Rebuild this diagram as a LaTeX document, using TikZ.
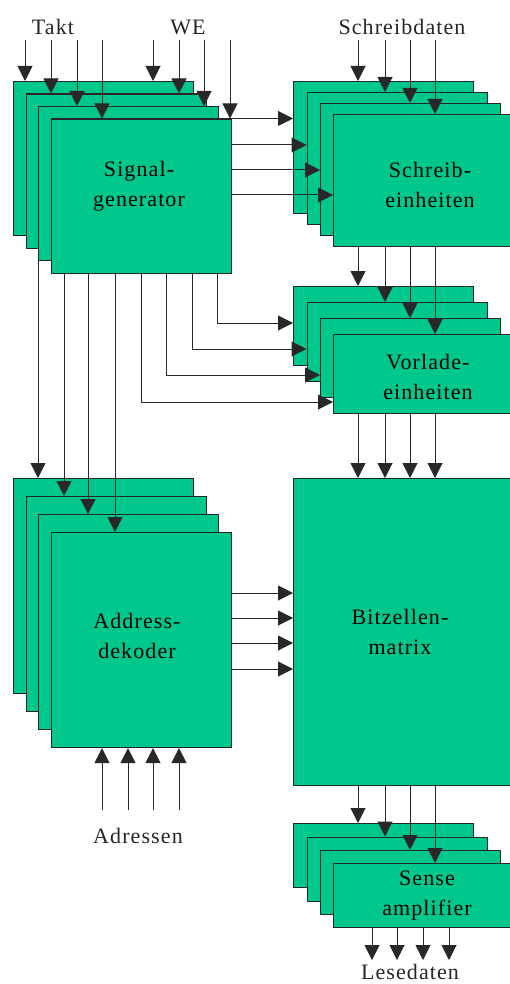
\documentclass[tikz,border=0pt]{standalone}
\usepackage{fontspec}
\setmainfont{Liberation Serif}[LetterSpace=5]
\usetikzlibrary{arrows.meta}
\definecolor{boxgreen}{RGB}{0,200,140}
\definecolor{linegray}{RGB}{40,40,40}
\begin{document}
\begin{tikzpicture}[x=1pt,y=-1pt,
  box/.style={draw=black!85, line width=1.1pt, fill=boxgreen, inner sep=0pt, anchor=north west, minimum width=#1},
  box/.default=180pt,
  conn/.style={draw=linegray, line width=1pt},
  arr/.style={conn, -{Triangle[width=15pt,length=15pt]}},
  txt/.style={font=\fontsize{22}{30}\selectfont, align=center, inner sep=0pt},
  lbl/.style={font=\fontsize{22}{26}\selectfont, inner sep=0pt, text=black!85}]
\useasboundingbox (0,0) rectangle (510,984);
\clip (0,0) rectangle (510,984);
\fill[white] (0,0) rectangle (510,984);

% ---------- Signal generator stack
\node[box, minimum height=154pt] (sg1) at (13,81) {};
\node[box, minimum height=154pt] (sg2) at (25.5,93.5) {};
\node[box, minimum height=154pt] (sg3) at (38,106) {};
\node[box, minimum height=154pt] (sg4) at (50.5,118.5) {};
\node[txt] (sgt) at (139,186) {Signal-\\generator};

% ---------- Schreibeinheiten stack
\node[box, minimum height=132pt] (sw1) at (293,81) {};
\node[box, minimum height=132pt] (sw2) at (306.5,92) {};
\node[box, minimum height=132pt] (sw3) at (320,103) {};
\node[box, minimum height=132pt] (sw4) at (333,114) {};
\node[txt] (swt) at (430,185) {Schreib-\\einheiten};

% ---------- Vorladeeinheiten stack
\node[box, minimum height=79pt] (vl1) at (293,286) {};
\node[box, minimum height=79pt] (vl2) at (306.5,302) {};
\node[box, minimum height=79pt] (vl3) at (320,318) {};
\node[box, minimum height=79pt] (vl4) at (333,334) {};
\node[txt] (vlt) at (428,377) {Vorlade-\\einheiten};

% ---------- Address decoder stack
\node[box, minimum height=215pt] (ad1) at (13,478) {};
\node[box, minimum height=215pt] (ad2) at (25.5,496) {};
\node[box, minimum height=215pt] (ad3) at (38,514) {};
\node[box, minimum height=215pt] (ad4) at (50.5,532) {};
\node[txt] (adt) at (137,636) {Address-\\dekoder};

% ---------- Bitzellenmatrix
\node[box=240pt, minimum height=307pt] (bm) at (293,478) {};
\node[txt] (bmt) at (400,632) {Bitzellen-\\matrix};

% ---------- Sense amplifier stack
\node[box, minimum height=64pt] (sa1) at (293,823) {};
\node[box, minimum height=64pt] (sa2) at (306.5,836.5) {};
\node[box, minimum height=64pt] (sa3) at (320,850) {};
\node[box, minimum height=64pt] (sa4) at (333,863) {};
\node[txt] (sat) at (427,896) {Sense\\amplifier};

% ---------- outside labels
\node[lbl] (takt) at (53,27) {Takt};
\node[lbl] (we) at (188,27) {WE};
\node[lbl] (sd) at (402,27) {Schreibdaten};
\node[lbl] (adr) at (138,836) {Adressen};
\node[lbl] (ld) at (410,972) {Lesedaten};

% ---------- Takt and WE inputs
\coordinate (tk1) at (25,40);  \coordinate (tk2) at (51,40);
\coordinate (tk3) at (77,40);  \coordinate (tk4) at (102,40);
\coordinate (we1) at (153,40); \coordinate (we2) at (179,40);
\coordinate (we3) at (204,40); \coordinate (we4) at (230,40);
\draw[arr] (tk1) -- (tk1 |- sg1.north);
\draw[arr] (tk2) -- (tk2 |- sg2.north);
\draw[arr] (tk3) -- (tk3 |- sg3.north);
\draw[arr] (tk4) -- (tk4 |- sg4.north);
\draw[arr] (we1) -- (we1 |- sg1.north);
\draw[arr] (we2) -- (we2 |- sg2.north);
\draw[arr] (we3) -- (we3 |- sg3.north);
\draw[arr] (we4) -- (we4 |- sg4.north);

% ---------- Schreibdaten inputs
\coordinate (sd1) at (358,40); \coordinate (sd2) at (385,40);
\coordinate (sd3) at (410,40); \coordinate (sd4) at (435,40);
\draw[arr] (sd1) -- (sd1 |- sw1.north);
\draw[arr] (sd2) -- (sd2 |- sw2.north);
\draw[arr] (sd3) -- (sd3 |- sw3.north);
\draw[arr] (sd4) -- (sd4 |- sw4.north);

% ---------- Signal generator -> Schreibeinheiten
\coordinate (g1) at (230.5,118.5); \coordinate (g2) at (230.5,145);
\coordinate (g3) at (230.5,170);   \coordinate (g4) at (230.5,195);
\draw[arr] (g1) -- (g1 -| sw1.west);
\draw[arr] (g2) -- (g2 -| sw2.west);
\draw[arr] (g3) -- (g3 -| sw3.west);
\draw[arr] (g4) -- (g4 -| sw4.west);

% ---------- Schreibeinheiten -> Vorladeeinheiten
\draw[arr] (sd1 |- sw4.south) -- (sd1 |- vl1.north);
\draw[arr] (sd2 |- sw4.south) -- (sd2 |- vl2.north);
\draw[arr] (sd3 |- sw4.south) -- (sd3 |- vl3.north);
\draw[arr] (sd4 |- sw4.south) -- (sd4 |- vl4.north);

% ---------- Signal generator -> Vorladeeinheiten
\coordinate (v1) at (217,323); \coordinate (v2) at (192,349);
\coordinate (v3) at (166,375); \coordinate (v4) at (141,402);
\draw[arr] (v1 |- sg4.south) -- (v1) -- (v1 -| vl1.west);
\draw[arr] (v2 |- sg4.south) -- (v2) -- (v2 -| vl2.west);
\draw[arr] (v3 |- sg4.south) -- (v3) -- (v3 -| vl3.west);
\draw[arr] (v4 |- sg4.south) -- (v4) -- (v4 -| vl4.west);

% ---------- Vorladeeinheiten -> Bitzellenmatrix
\draw[arr] (sd1 |- vl4.south) -- (sd1 |- bm.north);
\draw[arr] (sd2 |- vl4.south) -- (sd2 |- bm.north);
\draw[arr] (sd3 |- vl4.south) -- (sd3 |- bm.north);
\draw[arr] (sd4 |- vl4.south) -- (sd4 |- bm.north);

% ---------- Signal generator -> Address decoder
\coordinate (a1) at (38,0);  \coordinate (a2) at (64,0);
\coordinate (a3) at (88,0);  \coordinate (a4) at (115,0);
\draw[arr] (a1 |- sg3.south) -- (a1 |- ad1.north);
\draw[arr] (a2 |- sg4.south) -- (a2 |- ad2.north);
\draw[arr] (a3 |- sg4.south) -- (a3 |- ad3.north);
\draw[arr] (a4 |- sg4.south) -- (a4 |- ad4.north);

% ---------- Address decoder -> Bitzellenmatrix
\coordinate (d1) at (0,593); \coordinate (d2) at (0,618);
\coordinate (d3) at (0,643); \coordinate (d4) at (0,669);
\draw[arr] (d1 -| ad4.east) -- (d1 -| bm.west);
\draw[arr] (d2 -| ad4.east) -- (d2 -| bm.west);
\draw[arr] (d3 -| ad4.east) -- (d3 -| bm.west);
\draw[arr] (d4 -| ad4.east) -- (d4 -| bm.west);

% ---------- Adressen inputs
\coordinate (ai1) at (102,810); \coordinate (ai2) at (128,810);
\coordinate (ai3) at (153,810); \coordinate (ai4) at (179,810);
\draw[arr] (ai1) -- (ai1 |- ad4.south);
\draw[arr] (ai2) -- (ai2 |- ad4.south);
\draw[arr] (ai3) -- (ai3 |- ad4.south);
\draw[arr] (ai4) -- (ai4 |- ad4.south);

% ---------- Bitzellenmatrix -> Sense amplifier
\draw[arr] (sd1 |- bm.south) -- (sd1 |- sa1.north);
\draw[arr] (sd2 |- bm.south) -- (sd2 |- sa2.north);
\draw[arr] (sd3 |- bm.south) -- (sd3 |- sa3.north);
\draw[arr] (sd4 |- bm.south) -- (sd4 |- sa4.north);

% ---------- Lesedaten outputs
\coordinate (l1) at (372,960); \coordinate (l2) at (397,960);
\coordinate (l3) at (423,960); \coordinate (l4) at (449,960);
\draw[arr] (l1 |- sa4.south) -- (l1);
\draw[arr] (l2 |- sa4.south) -- (l2);
\draw[arr] (l3 |- sa4.south) -- (l3);
\draw[arr] (l4 |- sa4.south) -- (l4);
\end{tikzpicture}
\end{document}
